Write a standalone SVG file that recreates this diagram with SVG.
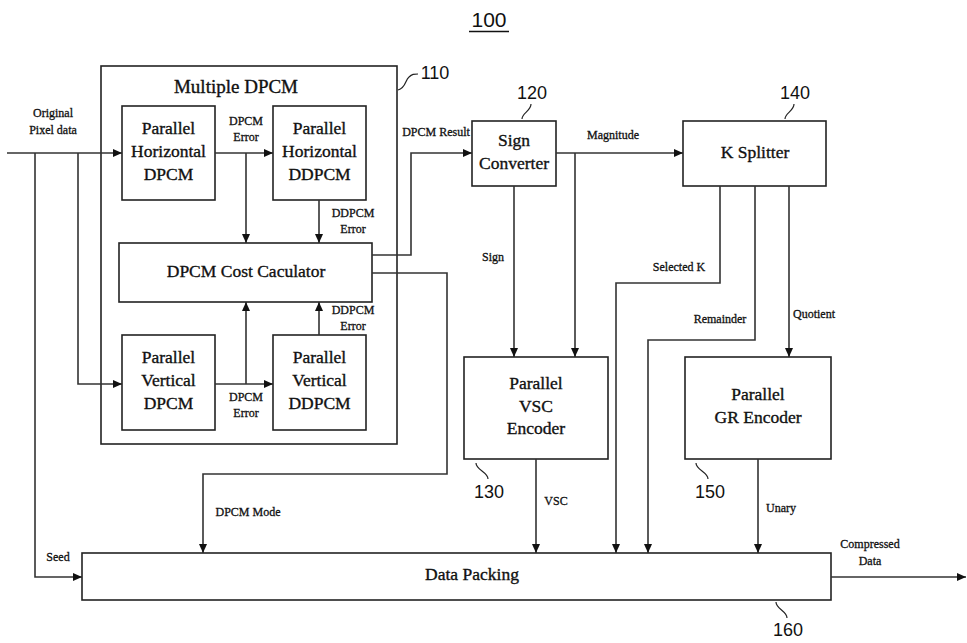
<svg xmlns="http://www.w3.org/2000/svg" width="967" height="643" viewBox="0 0 967 643">
<style>
.box{fill:#fff;stroke:#222;stroke-width:1.6}
.ln{fill:none;stroke:#333;stroke-width:1.6}
.arr{fill:none;stroke:#333;stroke-width:1.6;marker-end:url(#ah)}
.t{font-family:"Liberation Serif",serif;font-size:17.5px;fill:#111;stroke:#111;stroke-width:0.35;text-anchor:middle}
.s{font-family:"Liberation Serif",serif;font-size:12px;fill:#111;stroke:#111;stroke-width:0.3;text-anchor:middle}
.n{font-family:"Liberation Sans",sans-serif;font-size:18px;fill:#111;text-anchor:middle}
.sq{fill:none;stroke:#222;stroke-width:1.2}
</style>
<defs>
<marker id="ah" markerWidth="10" markerHeight="10" refX="9" refY="5" orient="auto" markerUnits="userSpaceOnUse">
<path d="M0,1 L9,5 L0,9 Z" fill="#111"/>
</marker>
</defs>
<rect width="967" height="643" fill="#fff"/>

<g id="title">
<text x="489" y="27" class="n" style="font-size:21px">100</text>
<line x1="469" y1="31.5" x2="509" y2="31.5" stroke="#111" stroke-width="1.3"/>
</g>

<g id="multiple-dpcm">
<rect class="box" x="101" y="66" width="296" height="378"/>
<text x="236" y="93" class="t" style="font-size:19px">Multiple DPCM</text>
<path class="sq" d="M398,90 C406,88 405,80 409,77 C412,74 414,74 418,74"/>
<text x="435" y="79" class="n">110</text>
</g>

<g id="ph-dpcm">
<rect class="box" x="122" y="106" width="93" height="94"/>
<text x="168.5" y="134" class="t">Parallel</text>
<text x="168.5" y="157" class="t">Horizontal</text>
<text x="168.5" y="180" class="t">DPCM</text>
</g>
<g id="ph-ddpcm">
<rect class="box" x="273" y="106" width="93" height="94"/>
<text x="319.5" y="134" class="t">Parallel</text>
<text x="319.5" y="157" class="t">Horizontal</text>
<text x="319.5" y="180" class="t">DDPCM</text>
</g>
<g id="cost-calc">
<rect class="box" x="119" y="243" width="253" height="59"/>
<text x="246" y="277" class="t">DPCM Cost Caculator</text>
</g>
<g id="pv-dpcm">
<rect class="box" x="122" y="335" width="93" height="95"/>
<text x="168.5" y="363" class="t">Parallel</text>
<text x="168.5" y="386" class="t">Vertical</text>
<text x="168.5" y="409" class="t">DPCM</text>
</g>
<g id="pv-ddpcm">
<rect class="box" x="273" y="335" width="93" height="95"/>
<text x="319.5" y="363" class="t">Parallel</text>
<text x="319.5" y="386" class="t">Vertical</text>
<text x="319.5" y="409" class="t">DDPCM</text>
</g>

<g id="sign-converter">
<rect class="box" x="472" y="121" width="84" height="65"/>
<text x="514" y="146" class="t">Sign</text>
<text x="514" y="169" class="t">Converter</text>
<path class="sq" d="M522,119 C522,113 531,111 531,104"/>
<text x="532" y="99" class="n">120</text>
</g>

<g id="k-splitter">
<rect class="box" x="683" y="121" width="143" height="65"/>
<text x="755" y="158" class="t">K Splitter</text>
<path class="sq" d="M785,119 C785,113 794,111 794,104"/>
<text x="795" y="99" class="n">140</text>
</g>

<g id="vsc-encoder">
<rect class="box" x="464" y="357" width="144" height="102"/>
<text x="536" y="389" class="t">Parallel</text>
<text x="536" y="412" class="t">VSC</text>
<text x="536" y="434" class="t">Encoder</text>
<path class="sq" d="M476,463 C476,470 488,472 488,479"/>
<text x="489" y="498" class="n">130</text>
</g>

<g id="gr-encoder">
<rect class="box" x="685" y="357" width="146" height="102"/>
<text x="758" y="400" class="t">Parallel</text>
<text x="758" y="423" class="t">GR Encoder</text>
<path class="sq" d="M696,463 C696,470 708,472 708,479"/>
<text x="710" y="498" class="n">150</text>
</g>

<g id="data-packing">
<rect class="box" x="82" y="553" width="749" height="47"/>
<text x="472" y="580" class="t">Data Packing</text>
<path class="sq" d="M776,602 C776,609 787,611 787,618"/>
<text x="788" y="636" class="n">160</text>
</g>

<g id="connectors">
<line class="arr" x1="7" y1="153" x2="122" y2="153"/>
<polyline class="arr" points="35,153 35,577 82,577"/>
<polyline class="arr" points="78,153 78,384 122,384"/>
<line class="arr" x1="215" y1="153" x2="273" y2="153"/>
<line class="arr" x1="246" y1="153" x2="246" y2="243"/>
<line class="arr" x1="319" y1="200" x2="319" y2="243"/>
<line class="arr" x1="215" y1="384" x2="273" y2="384"/>
<line class="arr" x1="246" y1="384" x2="246" y2="302"/>
<line class="arr" x1="319" y1="335" x2="319" y2="302"/>
<polyline class="arr" points="372,255 411,255 411,153 472,153"/>
<polyline class="arr" points="372,273 447,273 447,474 203,474 203,553"/>
<line class="arr" x1="556" y1="153" x2="683" y2="153"/>
<line class="arr" x1="575" y1="153" x2="575" y2="357"/>
<line class="arr" x1="514" y1="186" x2="514" y2="357"/>
<polyline class="arr" points="720,186 720,283 616,283 616,553"/>
<polyline class="arr" points="755,186 755,340 648,340 648,553"/>
<line class="arr" x1="789" y1="186" x2="789" y2="357"/>
<line class="arr" x1="536" y1="459" x2="536" y2="553"/>
<line class="arr" x1="758" y1="459" x2="758" y2="553"/>
<line class="arr" x1="831" y1="577" x2="966" y2="577"/>
</g>

<g id="labels">
<text x="53" y="117" class="s">Original</text>
<text x="53" y="134" class="s">Pixel data</text>
<text x="246" y="125" class="s">DPCM</text>
<text x="246" y="141" class="s">Error</text>
<text x="353" y="217" class="s">DDPCM</text>
<text x="353" y="233" class="s">Error</text>
<text x="353" y="314" class="s">DDPCM</text>
<text x="353" y="330" class="s">Error</text>
<text x="246" y="401" class="s">DPCM</text>
<text x="246" y="417" class="s">Error</text>
<text x="436" y="136" class="s">DPCM Result</text>
<text x="248" y="516" class="s">DPCM Mode</text>
<text x="58" y="561" class="s">Seed</text>
<text x="613" y="139" class="s">Magnitude</text>
<text x="493" y="261" class="s">Sign</text>
<text x="679" y="271" class="s">Selected K</text>
<text x="720" y="323" class="s">Remainder</text>
<text x="814" y="318" class="s">Quotient</text>
<text x="556" y="505" class="s">VSC</text>
<text x="781" y="512" class="s">Unary</text>
<text x="870" y="548" class="s">Compressed</text>
<text x="870" y="565" class="s">Data</text>
</g>
</svg>
